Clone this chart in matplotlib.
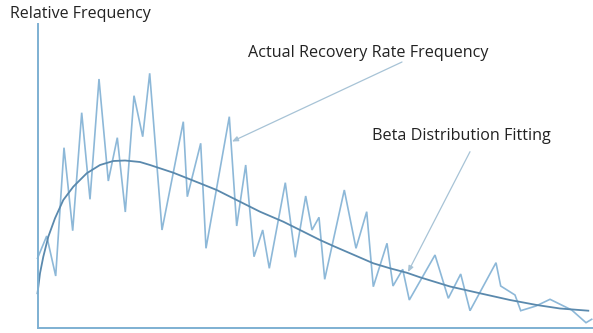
import matplotlib
matplotlib.use("Agg")
import matplotlib.pyplot as plt

# Actual recovery rate frequency (arbitrary units)
rate_x = [0, 9.2, 18.2, 26.5, 35.2, 44.2, 52.5, 61.5, 70.8, 79.8, 87.8, 96.5, 105.2,
          112.2, 124.5, 145.8, 149.8, 163.2, 168.5, 191.8, 199.2, 208.2, 216.5, 225.2,
          231.8, 247.8, 257.8, 268.2, 274.5, 281.5, 287.2, 306.8, 318.5, 329.2, 335.8,
          349.5, 355.5, 365.2, 371.8, 397.5, 410.8, 423.2, 432.5, 458.5, 463.2, 477.5,
          483.2, 498.5, 512.5, 534.2, 548.5, 554.2]
rate_freq = [70, 92.3, 52.3, 180.6, 97.6, 215.6, 129, 249.3, 147.3, 190.6, 116.3, 232.6,
             191.6, 255, 98.3, 206.6, 131.6, 185, 80, 211.6, 102.3, 163.3, 71.6, 98.3,
             60, 145.6, 71, 132.3, 98.3, 111, 49, 138.3, 80, 116.6, 41.6, 85, 42.3, 59,
             28.3, 73.3, 30, 54.3, 17.6, 65.6, 42.3, 33.3, 17.6, 22.3, 29, 18.3, 5.6, 9]

# Beta distribution fitting curve
beta_x = [0, 2.5, 5.8, 10.8, 17.5, 25.8, 35.8, 49.2, 62.5, 75.8, 87.5, 102.5, 112.5,
          135.8, 162.5, 179.2, 202.5, 222.5, 245.8, 262.5, 282.5, 295.8, 335.8, 352.5,
          369.2, 382.5, 412.5, 442.5, 472.5, 499.2, 522.5, 550.8]
beta_y = [35, 55, 71.6, 91.6, 110, 128.3, 141.6, 155, 163.3, 167.3, 167.8, 166.3, 163.3,
          155.6, 145, 138.3, 126.6, 116.6, 106.6, 98.3, 88.3, 82.3, 65, 60, 55.6, 51,
          41.8, 35, 28.3, 23.3, 19.8, 17.6]

y_label = "Relative Frequency"
label_actual = "Actual Recovery Rate Frequency"
label_beta = "Beta Distribution Fitting"

plt.rcParams['font.family'] = ['Open Sans', 'DejaVu Sans']

W, H = 593, 333
fig = plt.figure(figsize=(W / 100, H / 100), dpi=100)
left_px, bottom_px, right_px, top_px = 37.5, 328.3, 593, 24
ax = fig.add_axes([left_px / W, 1 - bottom_px / H, (right_px - left_px) / W,
                   (bottom_px - top_px) / H])
ax.set_xlim(0, right_px - left_px)
ax.set_ylim(0, bottom_px - top_px)

ax.plot(rate_x, rate_freq, color='#8db8d8', lw=1.2, solid_joinstyle='miter', clip_on=False)
ax.plot(beta_x, beta_y, color='#5a89ad', lw=1.3, solid_joinstyle='round', clip_on=False)

for s in ['top', 'right']:
    ax.spines[s].set_visible(False)
for s in ['left', 'bottom']:
    ax.spines[s].set_color('#7eb0d2')
    ax.spines[s].set_linewidth(1.4)
ax.set_xticks([])
ax.set_yticks([])

txt_color = '#222222'
fig.text(10 / W, 1 - 14 / H, y_label, fontsize=11.5, color=txt_color, va='center', ha='left')

arrow_kw = dict(arrowstyle='-|>,head_length=0.35,head_width=0.15', color='#a7c3d6', lw=0.9,
                shrinkA=0, shrinkB=0)
ax.annotate('', xy=(194.5, 186.8), xytext=(364.5, 266.3), arrowprops=arrow_kw)
ax.text(210.5, 275.3, label_actual, fontsize=11.6, color=txt_color, va='center', ha='left')
ax.annotate('', xy=(370.5, 56.3), xytext=(432.5, 176.6), arrowprops=arrow_kw)
ax.text(335, 192.3, label_beta, fontsize=11.6, color=txt_color, va='center', ha='left')

fig.savefig('out.png', dpi=100)
